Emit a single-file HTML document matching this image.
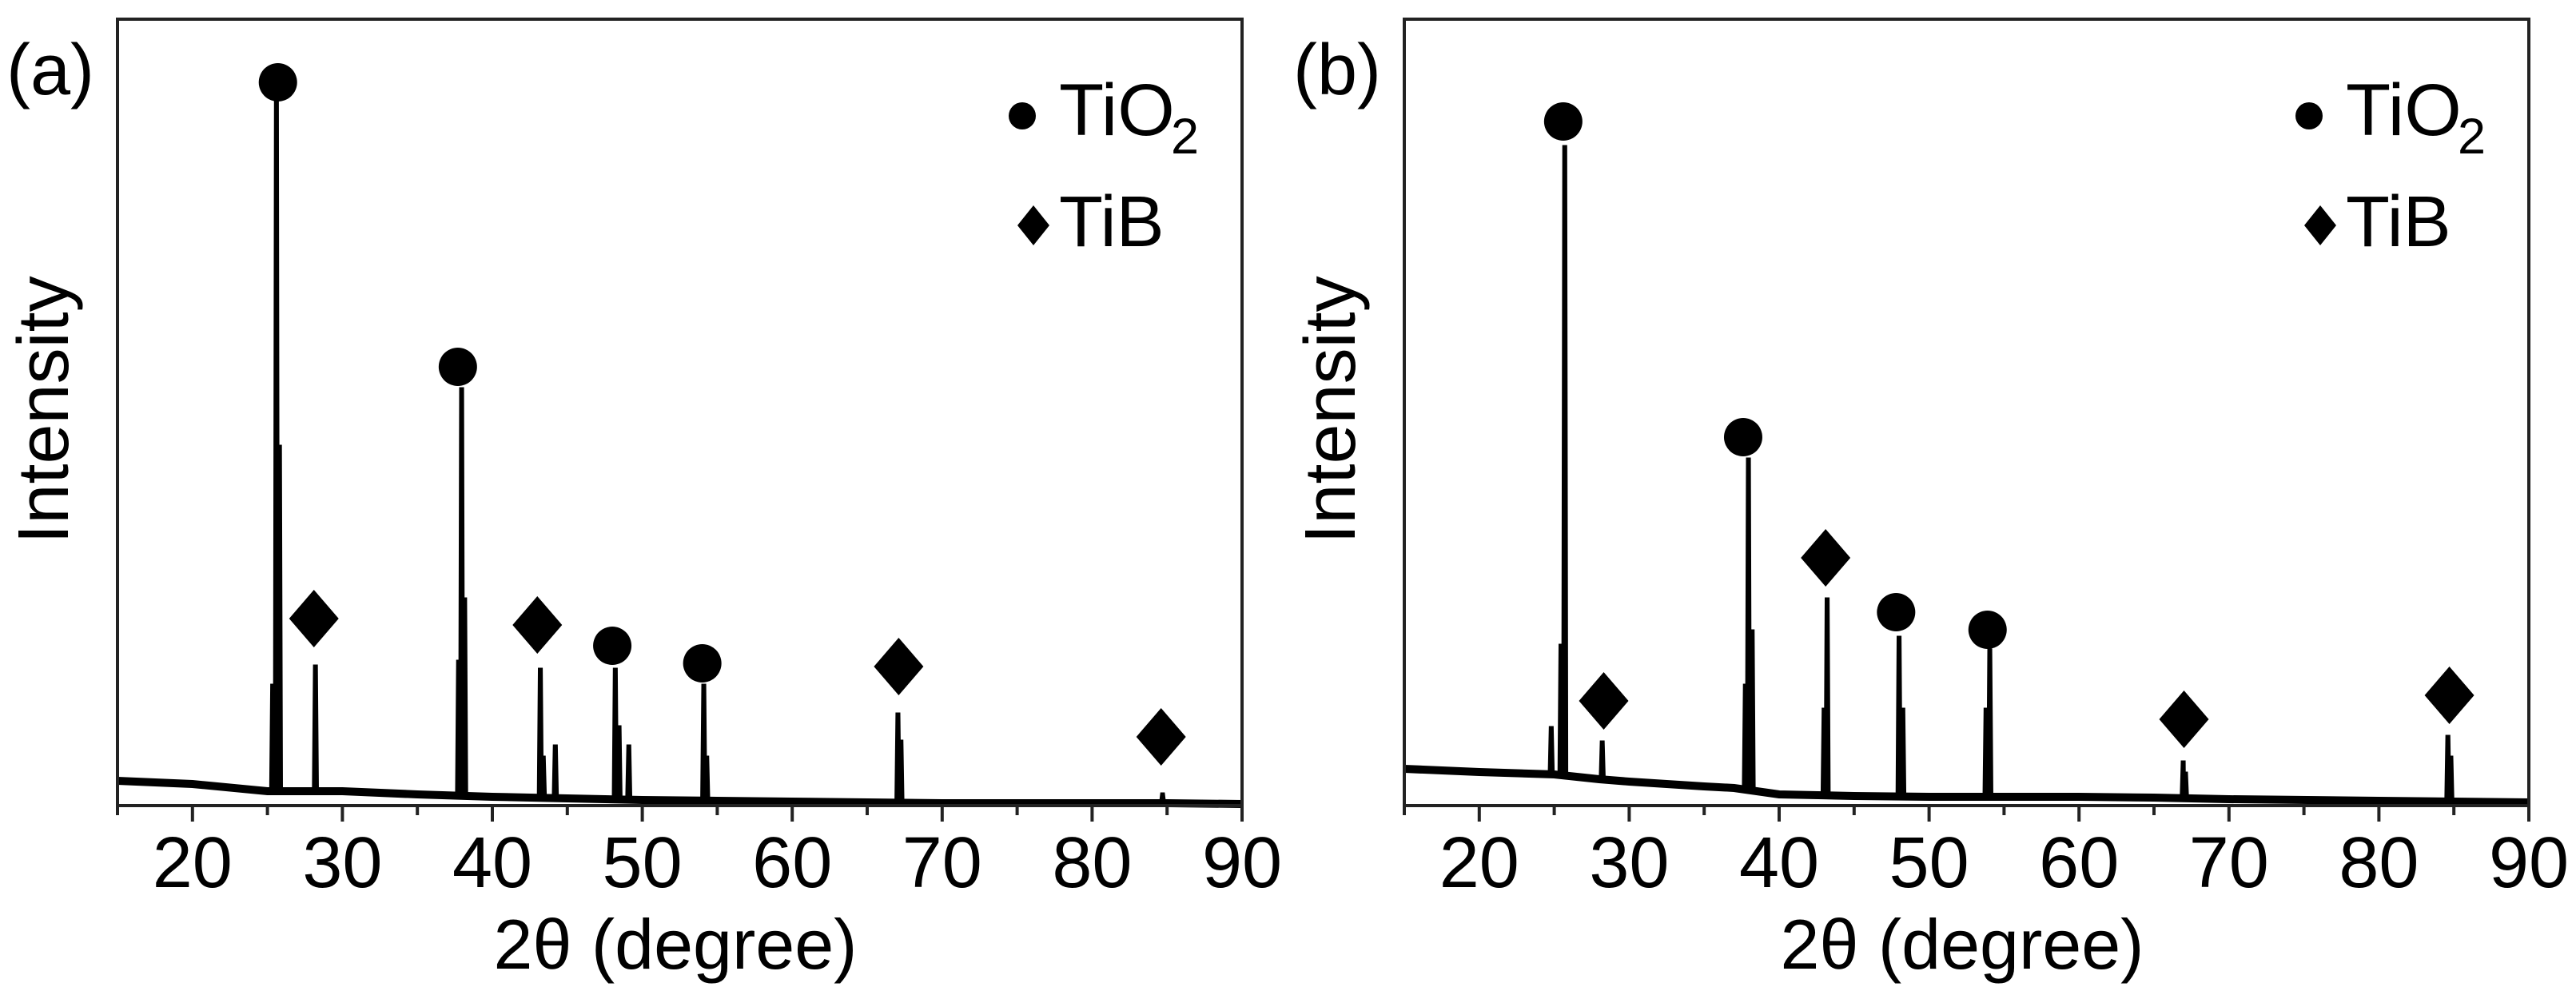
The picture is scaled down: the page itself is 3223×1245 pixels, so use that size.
<!DOCTYPE html>
<html><head><meta charset="utf-8"><style>
html,body{margin:0;padding:0;background:#fff;}
svg{display:block;font-family:"Liberation Sans",Arial,sans-serif;}
</style></head><body>
<svg id="fig" width="3223" height="1245" viewBox="0 0 3223 1245" xmlns="http://www.w3.org/2000/svg"></svg>
<script>
// ---- data (2θ in degrees, intensity in arbitrary units 0..984) ----
const xTicks = [20,30,40,50,60,70,80,90];
const xTickLabels = ["20","30","40","50","60","70","80","90"];
const baseA_x = [15,20,25,30,35,40,45,50,55,60,65,70,75,80,85,90];
const baseA_y = [31,27,18,18,14,11,9,7,6,5,4,3,3,3,3,2];
const peaksA_x = [25.35,25.6,25.8,28.2,37.75,37.95,38.15,43.2,43.4,44.2,48.2,48.45,49.1,54.1,54.3,67.05,67.25,84.7];
const peaksA_y = [150,880,449,174,180,521,258,170,60,74,170,98,74,150,60,114,80,14];
const circA_x = [25.7,37.7,48.0,54.0];
const circA_y = [905,549,200,178];
const diaA_x = [28.1,43.0,67.1,84.6];
const diaA_y = [234,226,174,86];

const baseB_x = [15,20,25,28,30,35,37,40,45,50,55,60,65,70,80,90];
const baseB_y = [46,42,39,33,30,24,22,14,12,11,11,11,10,8,6,4];
const peaksB_x = [24.8,25.45,25.7,28.2,37.75,37.95,38.2,43.0,43.2,48.0,48.25,53.8,54.05,66.95,67.1,84.6,84.8];
const peaksB_y = [97,200,824,79,150,433,218,120,258,210,120,120,194,54,40,86,60];
const circB_x = [25.6,37.6,47.8,53.9];
const circB_y = [856,461,242,220];
const diaB_x = [28.3,43.1,67.0,84.7];
const diaB_y = [131,310,108,138];

const NS = "http://www.w3.org/2000/svg";
const svg = document.getElementById('fig');
function mk(tag, attrs, parent){ const e=document.createElementNS(NS,tag); for(const k in attrs) e.setAttribute(k,attrs[k]); (parent||svg).appendChild(e); return e; }

function panel(L, label, bx, by, px, py, cx, cy, dx, dy, id){
  const R = L + 1407, T = 24, B = 1008;
  const X = d => L + (d-15)*(R-L)/75;
  const Y = v => B - v;
  const g = mk('g',{});
  
  
  const pts = [];
  for(let i=0;i<bx.length;i++) pts.push([bx[i],by[i]]);
  const baseAt = d => { for(let i=0;i<bx.length-1;i++){ if(d>=bx[i]&&d<=bx[i+1]){const t=(d-bx[i])/(bx[i+1]-bx[i]); return by[i]+t*(by[i+1]-by[i]);} } return by[by.length-1]; };
  // thick baseline band (noise)
  const band = mk('polyline',{points:bx.map((d,i)=>X(d).toFixed(1)+','+Y(by[i]).toFixed(1)).join(' '),fill:'none',stroke:'#000','stroke-width':10},g);
  
  
  for(let i=0;i<px.length;i++){
    const b = baseAt(px[i]);
    pts.push([px[i]-0.1,b],[px[i]-0.03,py[i]],[px[i]+0.03,py[i]],[px[i]+0.1,b]);
  }
  pts.sort((a,b)=>a[0]-b[0]);
  const path = mk('polyline',{points:pts.map(p=>X(p[0]).toFixed(1)+','+Y(p[1]).toFixed(1)).join(' '),fill:'none',stroke:'#000','stroke-width':5,'stroke-linejoin':'miter'},g);
  
  
  const fr = mk('rect',{x:L,y:T,width:R-L,height:B-T,fill:'none',stroke:'#222','stroke-width':4},g);
  
  
  for(let d=15; d<=90; d+=5){
    const major = d%10===0;
    mk('line',{x1:X(d),x2:X(d),y1:B,y2:B+(major?20:12),stroke:'#222','stroke-width':4},g);
  }
  xTicks.forEach((d,i)=>{
    const t = mk('text',{x:X(d),y:1110,'font-size':90,'text-anchor':'middle',fill:'#000'},g);
    t.textContent = xTickLabels[i];
    
    
  });
  for(let i=0;i<cx.length;i++){
    const c = mk('circle',{cx:X(cx[i]),cy:Y(cy[i]),r:24,fill:'#000'},g);
    
    
  }
  for(let i=0;i<dx.length;i++){
    const x=X(dx[i]), y=Y(dy[i]);
    const p = mk('polygon',{points:`${x},${y-36} ${x+31},${y} ${x},${y+36} ${x-31},${y}`,fill:'#000'},g);
    
    
  }
  const off = L-147;
  const lc = mk('circle',{cx:1279+off,cy:145,r:17,fill:'#000'},g);
  
  
  const lt = mk('text',{x:1325+off,y:169,'font-size':92,fill:'#000'},g);
  
  
  lt.textContent='TiO';
  const sub = mk('text',{x:1465+off,y:192,'font-size':63,fill:'#000'},g);
  
  
  sub.textContent='2';
  const ld = mk('polygon',{points:`${1293+off},257 ${1313+off},282 ${1293+off},307 ${1273+off},282`,fill:'#000'},g);
  
  
  const lb = mk('text',{x:1325+off,y:308,'font-size':90,fill:'#000'},g);
  
  
  lb.textContent='TiB';
  const yt = mk('text',{x:0,y:0,'font-size':90,'text-anchor':'middle',fill:'#000',transform:`translate(${85+off},513) rotate(-90)`},g);
  
  
  yt.textContent='Intensity';
  const xt = mk('text',{x:845+off,y:1212,'font-size':88,'text-anchor':'middle',fill:'#000'},g);
  
  
  xt.textContent='2θ (degree)';
  const pl = mk('text',{x:8+off,y:118,'font-size':90,fill:'#000'},g);
  
  
  pl.textContent=label;
}
panel(147,'(a)',baseA_x,baseA_y,peaksA_x,peaksA_y,circA_x,circA_y,diaA_x,diaA_y,'a');
panel(1757,'(b)',baseB_x,baseB_y,peaksB_x,peaksB_y,circB_x,circB_y,diaB_x,diaB_y,'b');
</script>
</body></html>
